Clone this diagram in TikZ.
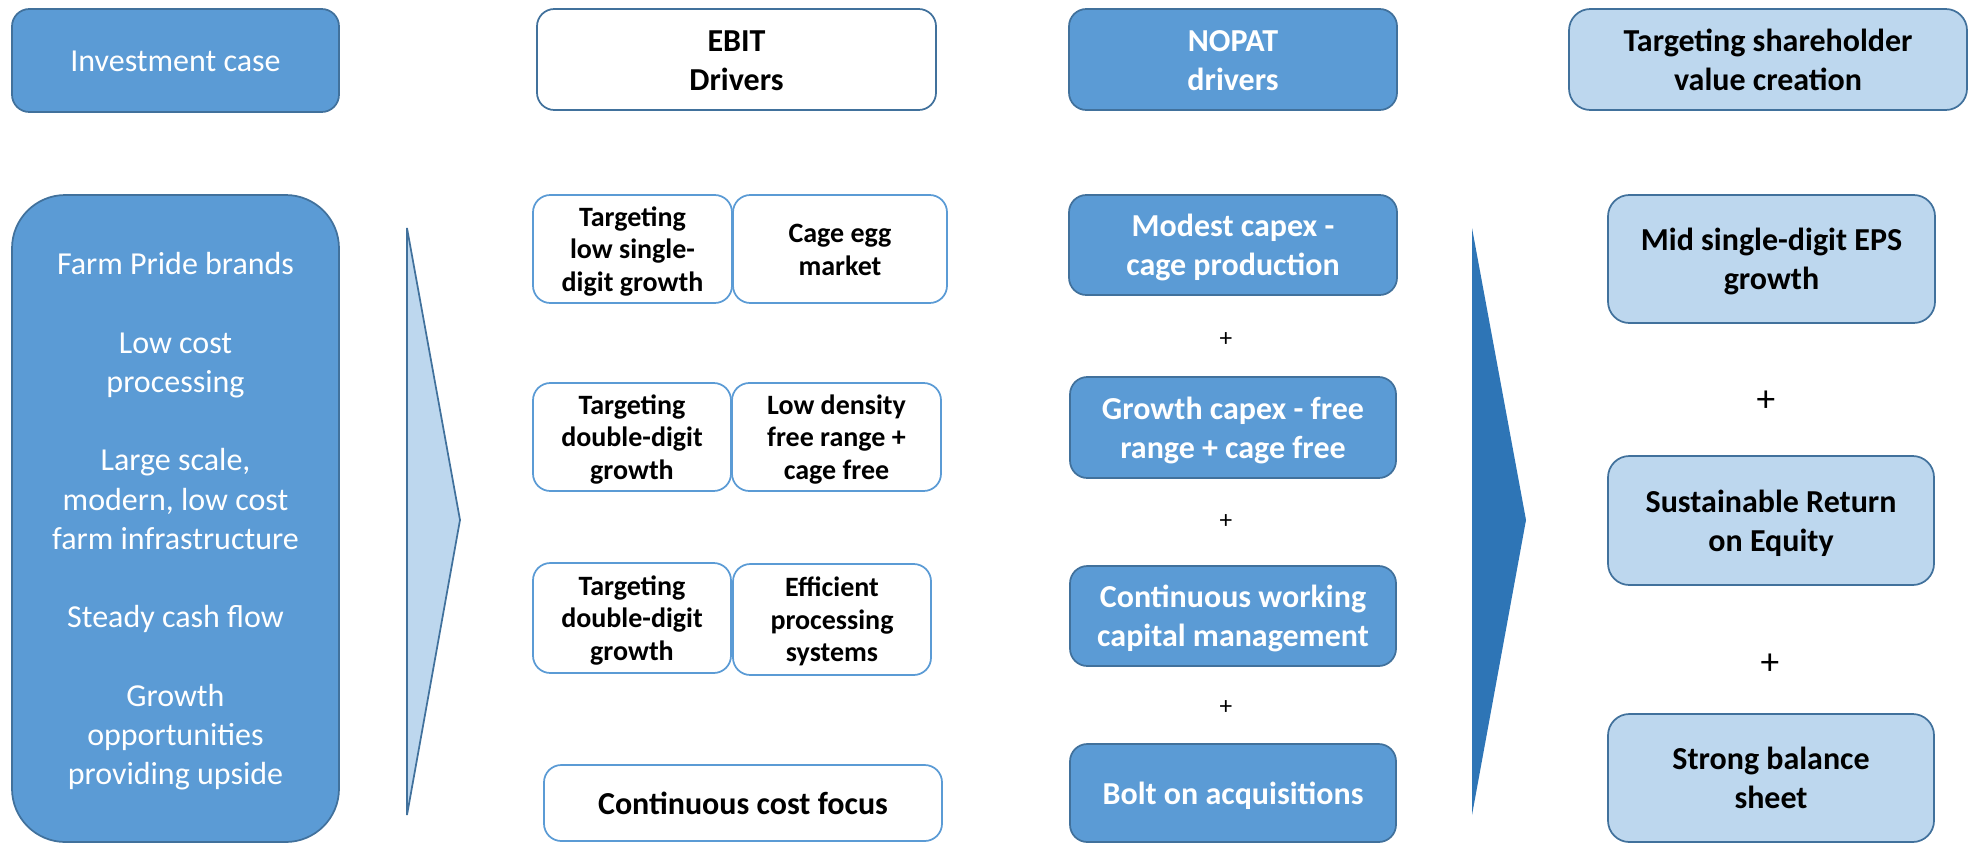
\documentclass[tikz,border=0pt]{standalone}
\usepackage{fontspec}
\setmainfont{Carlito}
\definecolor{mblue}{HTML}{5B9BD5}
\definecolor{dblue}{HTML}{41719C}
\definecolor{lblue}{HTML}{BDD7EE}
\definecolor{cblue}{HTML}{2E75B6}
\tikzset{
  basebox/.style={rounded corners=13pt, line width=1.3pt, inner sep=0pt, align=center},
  bluebox/.style={basebox, fill=mblue, draw=dblue, text=white},
  whitebox/.style={basebox, fill=white, draw=dblue, text=black},
  rowbox/.style={basebox, fill=white, draw=mblue, text=black, font=\fontsize{21}{24.5}\selectfont\bfseries},
  lightbox/.style={basebox, fill=lblue, draw=dblue, text=black, rounded corners=16pt},
  hd/.style={font=\fontsize{24}{29}\selectfont\bfseries},
  reg/.style={font=\fontsize{24}{29.4}\selectfont},
  plussmall/.style={font=\fontsize{19}{19}\selectfont, inner sep=0pt},
  plusbig/.style={font=\fontsize{28}{28}\selectfont, inner sep=0pt},
}
\newcommand{\bx}[7]{%
  \pgfmathsetmacro\cx{(#3+#5)/2}\pgfmathsetmacro\cy{(#4+#6)/2}%
  \pgfmathsetmacro\ww{(#5-#3)*0.75}\pgfmathsetmacro\hh{(#6-#4)*0.75}%
  \node[#2, minimum width=\ww pt, minimum height=\hh pt] (#1) at (\cx,\cy)
    {\rule{0pt}{0.95em}#7\rule[-0.25em]{0pt}{0.25em}};}
\begin{document}
\begin{tikzpicture}[x=0.75pt, y=-0.75pt]
\useasboundingbox (0,0) rectangle (1972,843);
% column 1
\bx{inv}{bluebox,reg}{12}{9}{339}{112}{Investment case}
\bx{big}{bluebox,reg,rounded corners=40pt}{12}{195}{339}{842}{Farm Pride brands\\[29.4pt]Low cost\\processing\\[29.4pt]Large scale,\\modern, low cost\\farm infrastructure\\[29.4pt]Steady cash flow\\[29.4pt]Growth\\opportunities\\providing upside}
% light chevron
\coordinate (lc1) at (407,228);
\coordinate (lc2) at (460,520);
\coordinate (lc3) at (407,815);
\draw[fill=lblue, draw=dblue, line width=1.3pt, line join=miter] (lc1) -- (lc2) -- (lc3) -- cycle;
% column 2
\bx{ebit}{whitebox,hd}{537}{9}{936}{110}{EBIT\\Drivers}
\bx{e1a}{rowbox}{533}{195}{732}{303}{Targeting\\low single-\\digit growth}
\bx{e1b}{rowbox}{733}{195}{947}{303}{Cage egg\\market}
\bx{e2a}{rowbox}{533}{383}{731}{491}{Targeting\\double-digit\\growth}
\bx{e2b}{rowbox}{732}{383}{941}{491}{Low density\\free range +\\cage free}
\bx{e3a}{rowbox}{533}{563}{731}{673}{Targeting\\double-digit\\growth}
\bx{e3b}{rowbox}{733}{564}{931}{675}{Efficient\\processing\\systems}
\bx{cost}{rowbox,hd}{544}{765}{942}{841}{Continuous cost focus}
% column 3
\bx{nopat}{bluebox,hd}{1069}{9}{1397}{110}{NOPAT\\drivers}
\bx{n1}{bluebox,hd}{1069}{195}{1397}{295}{Modest capex -\\cage production}
\bx{n2}{bluebox,hd}{1070}{377}{1396}{478}{Growth capex - free\\range + cage free}
\bx{n3}{bluebox,hd}{1070}{566}{1396}{666}{Continuous working\\capital management}
\bx{n4}{bluebox,hd}{1070}{744}{1396}{842}{Bolt on acquisitions}
\node[plussmall] (p1) at (1226,340) {+};
\node[plussmall] (p2) at (1226,522) {+};
\node[plussmall] (p3) at (1226,708) {+};
% dark chevron
\coordinate (dc1) at (1472,228);
\coordinate (dc2) at (1526,520);
\coordinate (dc3) at (1472,815);
\fill[cblue] (dc1) -- (dc2) -- (dc3) -- cycle;
% column 4
\bx{shv}{lightbox,hd}{1569}{9}{1967}{110}{Targeting shareholder\\value creation}
\bx{r1}{lightbox,hd}{1608}{195}{1935}{323}{Mid single-digit EPS\\growth}
\bx{r2}{lightbox,hd}{1608}{456}{1934}{585}{Sustainable Return\\on Equity}
\bx{r3}{lightbox,hd}{1608}{714}{1934}{842}{Strong balance\\sheet}
\node[plusbig] (p4) at (1766,401) {+};
\node[plusbig] (p5) at (1770,664) {+};
\end{tikzpicture}
\end{document}
